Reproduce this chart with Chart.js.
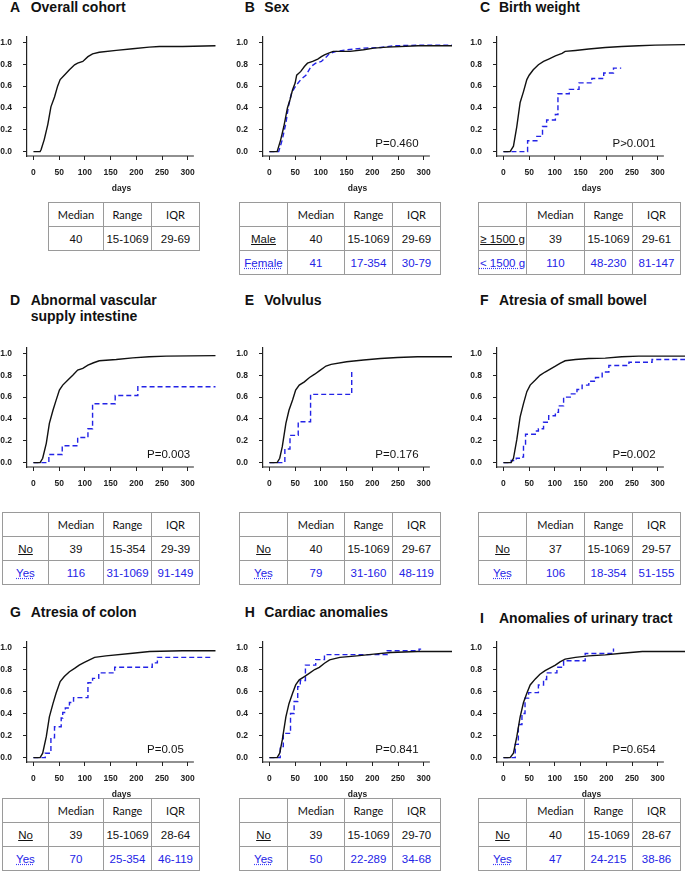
<!DOCTYPE html>
<html>
<head>
<meta charset="utf-8">
<title>Cumulative incidence of full enteral feeding</title>
<script src="https://cdn.jsdelivr.net/npm/chart.js@4.4.1/dist/chart.umd.min.js"></script>
<style>
  body { margin: 0; width: 685px; height: 875px; overflow: hidden; position: relative; background: #fff;
         font-family: "Liberation Sans", Arial, sans-serif; }
  .ttl { position: absolute; font-weight: bold; font-size: 14px; line-height: 15.5px; color: #111; white-space: nowrap; }
  canvas { position: absolute; }
  table { position: absolute; border-collapse: collapse; table-layout: fixed; }
  td { border: 1px solid #9a9a9a; height: 23px; padding: 0; text-align: center; vertical-align: middle;
       font-size: 11.5px; color: #111; white-space: nowrap; overflow: hidden; }
  tr.head td { font-family: Lato, "Open Sans", sans-serif; font-size: 11px; }
  tr.grp2 td { color: #2323e6; }
  .u1 { text-decoration: underline; }
  .u2 { text-decoration: underline dotted #3a3aff; }
</style>
</head>
<body>
<script>
// Axis ticks
const xTicks = [0, 50, 100, 150, 200, 250, 300];
const yTicks = [0, 0.2, 0.4, 0.6, 0.8, 1.0];

// A  Overall cohort
const overallDays = [0, 13, 15, 21, 28, 34, 41, 47, 52, 60, 70, 80, 86, 96, 106, 115, 128, 161, 193, 225, 245, 290, 354];
const overallCum  = [0, 0, 0.02, 0.11, 0.25, 0.41, 0.5, 0.6, 0.66, 0.7, 0.75, 0.795, 0.81, 0.826, 0.87, 0.896, 0.91, 0.927, 0.942, 0.957, 0.963, 0.963, 0.97];

// B  Sex
const maleDays   = [0, 15, 22, 28, 35, 40, 45, 50, 53, 61, 68, 74, 84, 94, 101, 107, 114, 124, 157, 183, 203, 229, 289, 357];
const maleCum    = [0, 0, 0.11, 0.23, 0.40, 0.475, 0.567, 0.628, 0.70, 0.735, 0.78, 0.81, 0.826, 0.848, 0.87, 0.887, 0.90, 0.918, 0.918, 0.933, 0.948, 0.957, 0.97, 0.97];
const femaleDays = [0, 18, 25, 32, 37, 43, 51, 61, 71, 81, 90, 101, 111, 117, 130, 150, 183, 216, 242, 288, 357];
const femaleCum  = [0, 0, 0.11, 0.26, 0.415, 0.537, 0.6, 0.66, 0.70, 0.78, 0.81, 0.826, 0.87, 0.90, 0.918, 0.933, 0.948, 0.954, 0.97, 0.975, 0.975];

// C  Birth weight
const bwHighDays = [0, 13, 19.5, 26, 32.5, 39, 45.5, 50, 58, 68, 78, 88, 101, 114, 120, 140, 166, 198, 230, 263, 295, 354];
const bwHighCum  = [0, 0, 0.05, 0.23, 0.45, 0.55, 0.66, 0.70, 0.75, 0.796, 0.826, 0.848, 0.878, 0.90, 0.918, 0.927, 0.94, 0.954, 0.963, 0.97, 0.976, 0.98];
const bwLowDays  = [0, 47, 65, 76, 84, 101, 106, 128, 147, 172, 195, 214, 229];
const bwLowCum   = [0, 0.10, 0.14, 0.23, 0.29, 0.34, 0.53, 0.57, 0.63, 0.67, 0.72, 0.765, 0.765];

// D  Abnormal vascular supply intestine
const vascNoDays  = [0, 13, 18, 25, 31, 38, 44, 50.5, 57, 67, 76.5, 86, 96, 106, 117, 128, 161, 193, 225, 258, 354];
const vascNoCum   = [0, 0, 0.04, 0.177, 0.36, 0.48, 0.57, 0.665, 0.71, 0.756, 0.80, 0.848, 0.863, 0.893, 0.915, 0.933, 0.945, 0.96, 0.97, 0.976, 0.98];
const vascYesDays = [0, 30, 56, 86, 106, 115, 159, 203, 354];
const vascYesCum  = [0, 0.075, 0.155, 0.23, 0.31, 0.54, 0.615, 0.695, 0.695];

// E  Volvulus
const volvNoDays  = [0, 15, 20, 25, 32, 38, 45, 51, 58, 68, 78, 88, 97, 110, 120, 150, 183, 216, 249, 288, 357];
const volvNoCum   = [0, 0, 0.04, 0.146, 0.36, 0.48, 0.573, 0.665, 0.71, 0.74, 0.78, 0.81, 0.84, 0.885, 0.90, 0.924, 0.94, 0.954, 0.963, 0.97, 0.97];
const volvYesDays = [0, 30, 40, 56, 80, 160];
const volvYesCum  = [0, 0.125, 0.25, 0.375, 0.625, 0.85];

// F  Atresia of small bowel
const sbNoDays  = [0, 15, 19.5, 26, 32.5, 39, 45.5, 52, 62, 71, 81, 91, 101, 110, 120, 140, 166, 198, 230, 263, 354];
const sbNoCum   = [0, 0, 0.04, 0.21, 0.42, 0.54, 0.65, 0.71, 0.756, 0.80, 0.83, 0.857, 0.884, 0.91, 0.933, 0.945, 0.954, 0.957, 0.97, 0.976, 0.976];
const sbYesDays = [0, 15, 25, 33, 39, 43, 62, 68, 78, 88, 101, 107, 117, 130, 143, 153, 166, 179, 192, 205, 244, 289, 354];
const sbYesCum  = [0, 0.02, 0.04, 0.05, 0.17, 0.26, 0.29, 0.31, 0.37, 0.43, 0.46, 0.52, 0.6, 0.63, 0.67, 0.71, 0.745, 0.78, 0.83, 0.89, 0.92, 0.945, 0.945];

// G  Atresia of colon
const colNoDays  = [0, 13, 18, 25, 31, 38, 44, 52, 60, 70, 80, 89, 99, 109, 119, 141, 193, 226, 290, 354];
const colNoCum   = [0, 0, 0.04, 0.19, 0.37, 0.49, 0.585, 0.69, 0.736, 0.78, 0.81, 0.84, 0.864, 0.888, 0.91, 0.924, 0.948, 0.964, 0.97, 0.97];
const colYesDays = [0, 23, 34, 41, 54, 57, 62, 70, 78, 106, 115, 127, 158, 231, 241, 349];
const colYesCum  = [0, 0.04, 0.18, 0.28, 0.36, 0.41, 0.45, 0.5, 0.545, 0.68, 0.72, 0.77, 0.82, 0.86, 0.91, 0.91];

// H  Cardiac anomalies
const cardNoDays  = [0, 15, 20, 25, 32, 38, 45, 51, 58, 68, 78, 88, 97, 107, 117, 137, 170, 203, 236, 288, 357];
const cardNoCum   = [0, 0, 0.04, 0.16, 0.37, 0.49, 0.585, 0.66, 0.706, 0.736, 0.767, 0.80, 0.82, 0.857, 0.888, 0.91, 0.924, 0.94, 0.955, 0.964, 0.964];
const cardYesDays = [0, 21, 27, 41, 48, 55, 60, 70, 90, 107, 229, 291, 295];
const cardYesCum  = [0, 0.1, 0.22, 0.4, 0.51, 0.645, 0.7, 0.84, 0.89, 0.935, 0.97, 0.985, 0.985];

// I  Anomalies of urinary tract
const uriNoDays  = [0, 13, 19.5, 26, 32.5, 39, 45.5, 52, 62, 71, 81, 91, 101, 110, 120, 140, 166, 198, 230, 270, 354];
const uriNoCum   = [0, 0, 0.04, 0.19, 0.37, 0.50, 0.585, 0.66, 0.715, 0.757, 0.79, 0.815, 0.84, 0.87, 0.894, 0.91, 0.924, 0.933, 0.948, 0.964, 0.964];
const uriYesDays = [0, 23, 29, 36, 42, 49, 68, 78, 84, 104, 117, 159, 214];
const uriYesCum  = [0, 0.12, 0.3, 0.4, 0.54, 0.59, 0.66, 0.71, 0.77, 0.82, 0.88, 0.945, 0.99];

// Tables
const tableHead = ['Median', 'Range', 'IQR'];
const tableA = [['40', '15-1069', '29-69']];
const tableB = [['Male', '40', '15-1069', '29-69'], ['Female', '41', '17-354', '30-79']];
const tableC = [['≥ 1500 g', '39', '15-1069', '29-61'], ['< 1500 g', '110', '48-230', '81-147']];
const tableD = [['No', '39', '15-354', '29-39'], ['Yes', '116', '31-1069', '91-149']];
const tableE = [['No', '40', '15-1069', '29-67'], ['Yes', '79', '31-160', '48-119']];
const tableF = [['No', '37', '15-1069', '29-57'], ['Yes', '106', '18-354', '51-155']];
const tableG = [['No', '39', '15-1069', '28-64'], ['Yes', '70', '25-354', '46-119']];
const tableH = [['No', '39', '15-1069', '29-70'], ['Yes', '50', '22-289', '34-68']];
const tableI = [['No', '40', '15-1069', '28-67'], ['Yes', '47', '24-215', '38-86']];

const panels = [
    { letter: 'A', title: 'Overall cohort', row: 0, col: 0, black: [overallDays, overallCum], blue: null, pval: '', table: tableA },
    { letter: 'B', title: 'Sex', row: 0, col: 1, black: [maleDays, maleCum], blue: [femaleDays, femaleCum], blueStep: false, pval: 'P=0.460', table: tableB },
    { letter: 'C', title: 'Birth weight', row: 0, col: 2, black: [bwHighDays, bwHighCum], blue: [bwLowDays, bwLowCum], blueStep: true, pval: 'P>0.001', table: tableC },
    { letter: 'D', title: 'Abnormal vascular<br>supply intestine', row: 1, col: 0, black: [vascNoDays, vascNoCum], blue: [vascYesDays, vascYesCum], blueStep: true, pval: 'P=0.003', table: tableD },
    { letter: 'E', title: 'Volvulus', row: 1, col: 1, black: [volvNoDays, volvNoCum], blue: [volvYesDays, volvYesCum], blueStep: true, pval: 'P=0.176', table: tableE },
    { letter: 'F', title: 'Atresia of small bowel', row: 1, col: 2, black: [sbNoDays, sbNoCum], blue: [sbYesDays, sbYesCum], blueStep: true, pval: 'P=0.002', table: tableF },
    { letter: 'G', title: 'Atresia of colon', row: 2, col: 0, black: [colNoDays, colNoCum], blue: [colYesDays, colYesCum], blueStep: true, pval: 'P=0.05', table: tableG },
    { letter: 'H', title: 'Cardiac anomalies', row: 2, col: 1, black: [cardNoDays, cardNoCum], blue: [cardYesDays, cardYesCum], blueStep: true, pval: 'P=0.841', table: tableH },
    { letter: 'I', title: 'Anomalies of urinary tract', row: 2, col: 2, black: [uriNoDays, uriNoCum], blue: [uriYesDays, uriYesCum], blueStep: true, pval: 'P=0.654', table: tableI, titleDy: 6 }
];

// Layout
const colAxisX = [27, 263, 497];
const colLetterX = [10, 244.7, 480];
const colTextX = [30.7, 264.3, 499];
const colPvalAt = [221, 206, 212];
const rowTitleTop = [-0.3, 293.4, 605.1];
const rowCanvasTop = [19, 330, 624];
const rowCanvasH = [178, 178, 179];
const rowTableTop = [202, 512, 798];
const tableGeom = [
    { left: 2, widths: [46, 55, 48, 48] },
    { left: 239, widths: [48, 57, 48, 48] },
    { left: 478, widths: [48, 58, 48, 48] }
];
const tableGeomA = { left: 48, widths: [55, 48, 48] };

const blue = '#2323e6';
const axisFont = { family: '"Liberation Sans", Arial, sans-serif', size: 8.5, weight: 'bold' };

// Draw the short x axis line and the P value
const kmAxes = {
    id: 'kmAxes',
    afterDraw(chart, args, opts) {
        const { ctx, chartArea, scales: { x, y } } = chart;
        ctx.save();
        ctx.strokeStyle = '#222';
        ctx.lineWidth = 1.2;
        ctx.beginPath();
        ctx.moveTo(chartArea.left, chartArea.bottom);
        ctx.lineTo(x.getPixelForValue(opts.axisEnd), chartArea.bottom);
        ctx.stroke();
        if (opts.text) {
            ctx.fillStyle = '#111';
            ctx.font = '11.5px "Liberation Sans", Arial, sans-serif';
            ctx.textBaseline = 'middle';
            ctx.fillText(opts.text, x.getPixelForValue(opts.px), y.getPixelForValue(opts.py));
        }
        ctx.restore();
    }
};

function addTitle(p) {
    const top = rowTitleTop[p.row] + (p.titleDy || 0);
    const a = document.createElement('div');
    a.className = 'ttl';
    a.style.left = colLetterX[p.col] + 'px';
    a.style.top = top + 'px';
    a.textContent = p.letter;
    document.body.appendChild(a);
    const t = document.createElement('div');
    t.className = 'ttl';
    t.style.left = colTextX[p.col] + 'px';
    t.style.top = top + 'px';
    t.innerHTML = p.title;
    document.body.appendChild(t);
}

function addTable(p) {
    const four = p.table[0].length === 4;
    const g = four ? tableGeom[p.col] : tableGeomA;
    const t = document.createElement('table');
    t.style.left = g.left + 'px';
    t.style.top = rowTableTop[p.row] + 'px';
    t.style.width = g.widths.reduce((a, b) => a + b, 0) + 'px';
    const cg = document.createElement('colgroup');
    g.widths.forEach(w => {
        const c = document.createElement('col');
        c.style.width = w + 'px';
        cg.appendChild(c);
    });
    t.appendChild(cg);
    const head = t.insertRow();
    head.className = 'head';
    if (four) head.insertCell().textContent = '';
    tableHead.forEach(h => { head.insertCell().textContent = h; });
    p.table.forEach((r, i) => {
        const tr = t.insertRow();
        if (i === 1) tr.className = 'grp2';
        r.forEach((v, j) => {
            const td = tr.insertCell();
            if (four && j === 0) {
                const s = document.createElement('span');
                s.className = i === 0 ? 'u1' : 'u2';
                s.textContent = v;
                td.appendChild(s);
            } else {
                td.textContent = v;
            }
        });
    });
    document.body.appendChild(t);
}

function addChart(p) {
    const cv = document.createElement('canvas');
    cv.width = 216;
    cv.height = rowCanvasH[p.row];
    cv.style.left = (colAxisX[p.col] - 27) + 'px';
    cv.style.top = rowCanvasTop[p.row] + 'px';
    document.body.appendChild(cv);

    const datasets = [{
        data: p.black[0].map((d, i) => ({ x: d, y: p.black[1][i] })),
        borderColor: '#111',
        borderWidth: 1.4,
        pointRadius: 0,
        tension: 0,
        fill: false
    }];
    if (p.blue) {
        datasets.push({
            data: p.blue[0].map((d, i) => ({ x: d, y: p.blue[1][i] })),
            borderColor: blue,
            borderWidth: 1.4,
            borderDash: [5, 3],
            pointRadius: 0,
            tension: 0,
            stepped: p.blueStep ? 'before' : false,
            fill: false
        });
    }

    new Chart(cv, {
        type: 'line',
        data: { datasets },
        options: {
            responsive: false,
            animation: false,
            events: [],
            layout: { padding: { top: 18, right: 0, bottom: 0, left: 0 } },
            plugins: {
                legend: { display: false },
                tooltip: { enabled: false },
                kmAxes: { axisEnd: 312, text: p.pval, px: colPvalAt[p.col], py: 0.073 }
            },
            scales: {
                x: {
                    type: 'linear',
                    min: -12.5,
                    max: 355,
                    afterBuildTicks: s => { s.ticks = xTicks.map(v => ({ value: v })); },
                    afterFit: s => { s.height = 41; },
                    grid: { display: true, drawOnChartArea: false, drawTicks: true, tickLength: 4, color: '#222', lineWidth: 1 },
                    border: { display: false },
                    ticks: { font: axisFont, color: '#222', padding: 8, maxRotation: 0, autoSkip: false, callback: v => String(v) },
                    title: { display: p.row !== 1, text: 'days', font: axisFont, color: '#222', padding: { top: 0, bottom: 3 } }
                },
                y: {
                    min: -0.04,
                    max: 1.05,
                    afterBuildTicks: s => { s.ticks = yTicks.map(v => ({ value: v })); },
                    afterFit: s => { s.width = 27; },
                    grid: { display: true, drawOnChartArea: false, drawTicks: true, tickLength: 4, color: '#222', lineWidth: 1 },
                    border: { display: true, color: '#222', width: 1.2 },
                    ticks: { font: axisFont, color: '#222', padding: 11, autoSkip: false, callback: v => v.toFixed(1) }
                }
            }
        },
        plugins: [kmAxes]
    });
}

panels.forEach(p => {
    addTitle(p);
    addTable(p);
    addChart(p);
});
</script>
</body>
</html>
